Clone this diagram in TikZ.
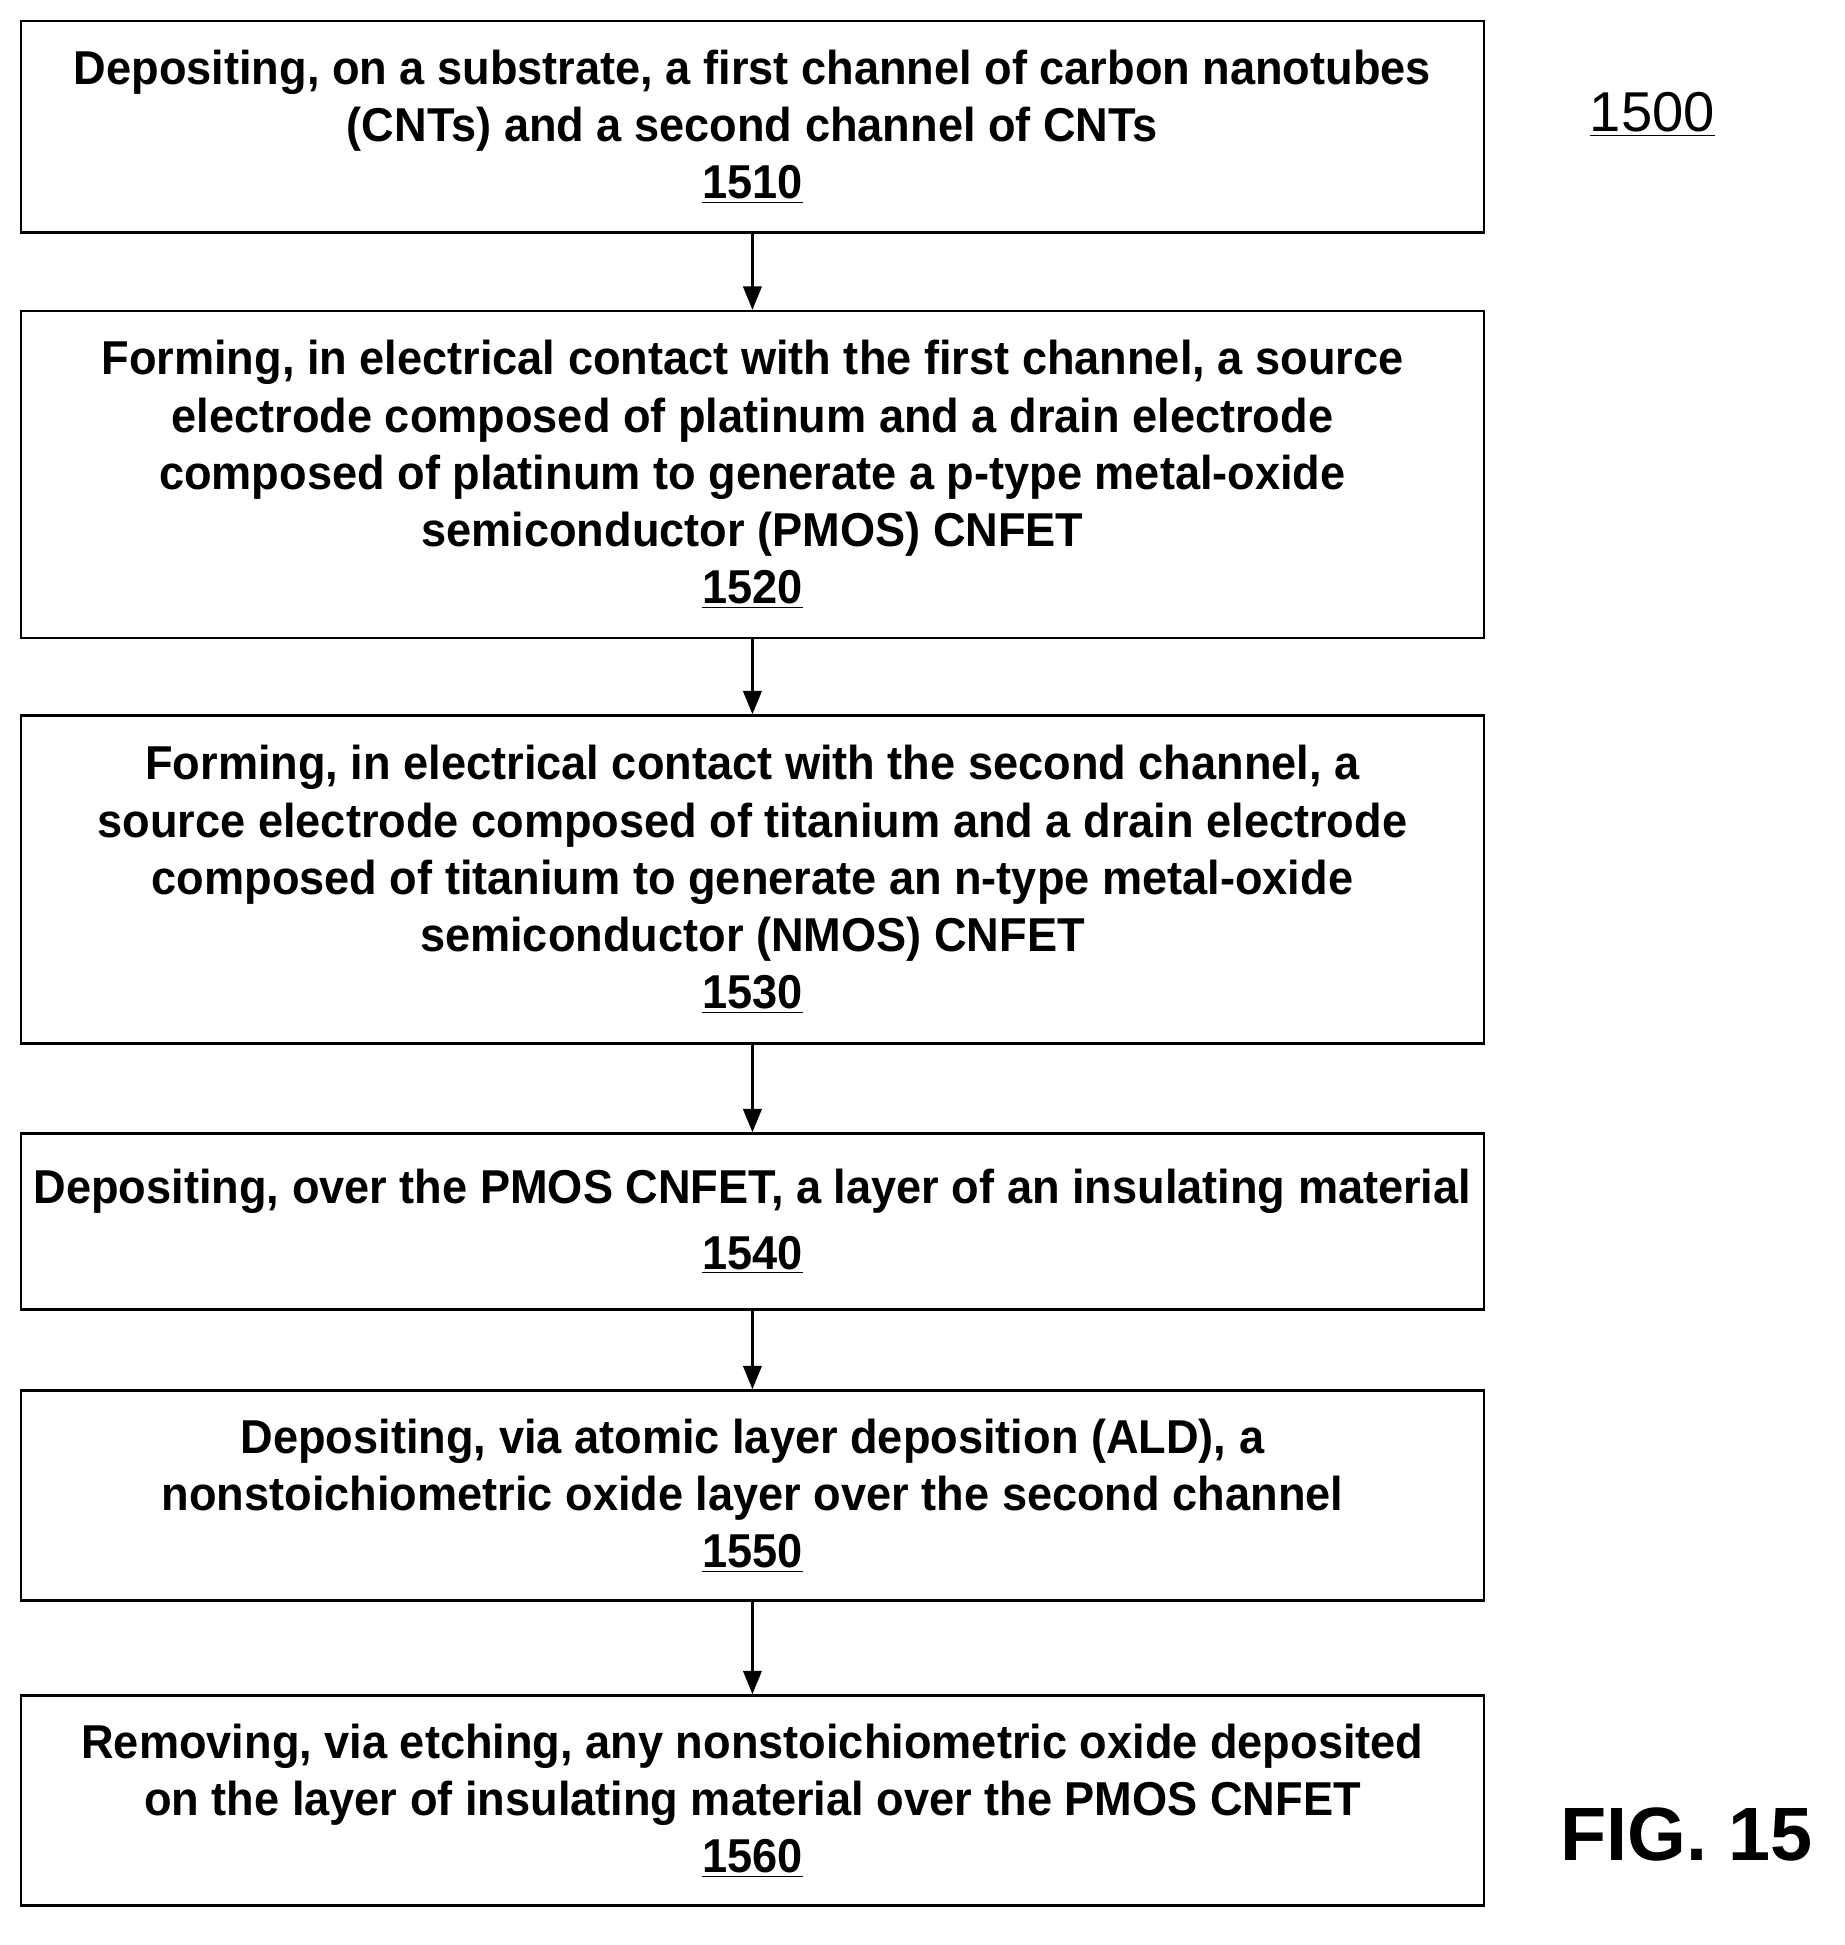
\documentclass[tikz,border=0pt]{standalone}
\usepackage{fontspec}
\setmainfont{Liberation Sans}[FakeStretch=0.95]
\newfontfamily\plainsans{Liberation Sans}
\usetikzlibrary{arrows.meta}
\tikzset{
  stage/.style={draw,line width=1.2pt,minimum width=23.8cm,align=center,
    font=\fontsize{22}{26.5}\selectfont\bfseries,inner sep=0pt},
  flow/.style={-{Triangle[length=0.38cm,width=0.3cm]},line width=1.2pt}
}
\begin{document}
\begin{tikzpicture}[x=0.02cm,y=-0.02cm]
  \useasboundingbox (0,0) rectangle (1500,1582);
  \node[stage,minimum height=3.44cm] (s1510) at (612,103)
    {Depositing, on a substrate, a first channel of carbon nanotubes\\(CNTs) and a second channel of CNTs\\\underline{1510}};
  \node[stage,minimum height=5.32cm] (s1520) at (612,386)
    {Forming, in electrical contact with the first channel, a source\\electrode composed of platinum and a drain electrode\\composed of platinum to generate a p-type metal-oxide\\semiconductor (PMOS) CNFET\\\underline{1520}};
  \node[stage,minimum height=5.34cm] (s1530) at (612,715.5)
    {Forming, in electrical contact with the second channel, a\\source electrode composed of titanium and a drain electrode\\composed of titanium to generate an n-type metal-oxide\\semiconductor (NMOS) CNFET\\\underline{1530}};
  \node[stage,minimum height=2.86cm] (s1540) at (612,993.5)
    {Depositing, over the PMOS CNFET, a layer of an insulating material\\[4pt]\underline{1540}};
  \node[stage,minimum height=3.42cm] (s1550) at (612,1216.5)
    {Depositing, via atomic layer deposition (ALD), a\\nonstoichiometric oxide layer over the second channel\\\underline{1550}};
  \node[stage,minimum height=3.42cm] (s1560) at (612,1464.5)
    {Removing, via etching, any nonstoichiometric oxide deposited\\on the layer of insulating material over the PMOS CNFET\\\underline{1560}};

  \foreach \a/\b in {1510/1520,1520/1530,1530/1540,1540/1550,1550/1560}
    \draw[flow] (s\a) -- (s\b);

  \node[font=\plainsans\fontsize{26}{30}\selectfont] (ref) at (1344,93) {\underline{1500}};
  \node[font=\plainsans\fontsize{35}{40}\selectfont\bfseries] (fig) at (1372,1492) {FIG. 15};
\end{tikzpicture}
\end{document}
